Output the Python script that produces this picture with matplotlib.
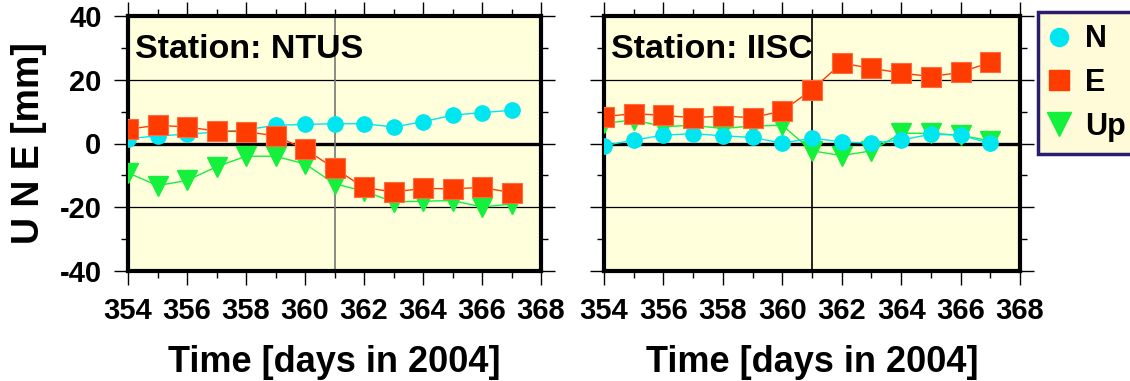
import matplotlib
matplotlib.use("Agg")
import matplotlib.pyplot as plt
from matplotlib.lines import Line2D
from matplotlib.ticker import MultipleLocator

plt.rcParams['font.family'] = ['Liberation Sans', 'DejaVu Sans']
plt.rcParams['font.weight'] = 'bold'
plt.rcParams['axes.unicode_minus'] = False

# ----- DATA -----
days = [354, 355, 356, 357, 358, 359, 360, 361, 362, 363, 364, 365, 366, 367]

stations = ["NTUS", "IISC"]

# NTUS
ntus_n = [1.5, 2.4, 2.9, 3.6, 4.3, 5.7, 6.0, 6.2, 6.2, 5.2, 6.8, 8.9, 9.7, 10.4]
ntus_e = [4.5, 5.7, 5.2, 3.9, 3.7, 2.4, -1.8, -7.8, -13.8, -15.2, -14.1, -14.2, -13.8, -15.4]
ntus_up = [-9.2, -13.2, -11.6, -7.3, -4.0, -4.0, -6.4, -12.6, -15.0, -18.3, -18.1, -17.9, -19.9, -19.0]

# IISC
iisc_n = [-0.7, 1.1, 2.6, 3.1, 2.4, 1.9, 0.1, 1.7, 0.5, 0.1, 1.1, 2.9, 2.6, 0.1]
iisc_e = [8.4, 9.4, 8.8, 8.1, 8.6, 8.1, 10.2, 16.9, 25.2, 23.6, 22.1, 21.0, 22.3, 25.5]
iisc_up = [6.3, 7.4, 5.3, 5.7, 4.7, 5.5, 5.7, -2.3, -3.8, -2.3, 3.2, 3.2, 2.6, 0.8]

series = {
    "NTUS": (ntus_n, ntus_e, ntus_up),
    "IISC": (iisc_n, iisc_e, iisc_up),
}

c_n = '#00E6F0'
c_e = '#FF3C00'
c_up = '#14F03C'
bg = '#FFFFDC'

fig = plt.figure(figsize=(11.3, 3.81), dpi=100)
ax_left = fig.add_axes([128 / 1130, 1 - 271 / 381, 413 / 1130, 255 / 381])
ax_right = fig.add_axes([604 / 1130, 1 - 271 / 381, 416 / 1130, 255 / 381])

for ax, name in zip([ax_left, ax_right], stations):
    n, e, up = series[name]
    ax.set_facecolor(bg)
    ax.set_xlim(354, 368)
    ax.set_ylim(-40, 40)
    ax.xaxis.set_major_locator(MultipleLocator(2))
    ax.xaxis.set_minor_locator(MultipleLocator(1))
    ax.yaxis.set_major_locator(MultipleLocator(20))
    ax.yaxis.set_minor_locator(MultipleLocator(10))
    ax.tick_params(which='both', direction='out', top=True, right=True,
                   width=1.0, color='black')
    ax.tick_params(which='major', length=10, pad=9, labelsize=21)
    ax.tick_params(which='minor', length=5)
    for sp in ax.spines.values():
        sp.set_linewidth(3)

    # grid lines
    for yv in [-20, 20]:
        ax.axhline(yv, color='black', lw=0.9, zorder=1)
    ax.axhline(0, color='black', lw=2.4, zorder=1)
    vcol = '#777777' if name == "NTUS" else 'black'
    ax.axvline(361, color=vcol, lw=1.2, zorder=1)

    ax.plot(days, up, color=c_up, lw=1, marker='v', ms=15, mec=c_up, zorder=3)
    ax.plot(days, n, color=c_n, lw=1, marker='o', ms=11, mec=c_n, zorder=4)
    ax.plot(days, e, color=c_e, lw=1, marker='s', ms=15, mec='#FF6A40', mew=0.8, zorder=5)

    ax.text(0.017, 0.93, "Station: " + name, transform=ax.transAxes,
            fontsize=24.5, fontweight='bold', va='top', ha='left', zorder=6)
    ax.set_xlabel("Time [days in 2004]", fontsize=26, fontweight='bold', labelpad=14)

ax_left.set_ylabel("U N E [mm]", fontsize=27, fontweight='bold', labelpad=9)
ax_right.set_yticklabels([])

# legend, runs off the right edge like the original
handles = [
    Line2D([], [], ls='none', marker='o', ms=13, color=c_n),
    Line2D([], [], ls='none', marker='s', ms=14, color=c_e),
    Line2D([], [], ls='none', marker='v', ms=17, color=c_up),
]
leg = fig.legend(handles, ["N", "E", "Up"], loc='upper left',
                 bbox_to_anchor=(1038 / 1130, 1 - 12 / 381, 0.2, 0),
                 mode='expand', borderaxespad=0, prop={'weight': 'bold', 'size': 22},
                 handlelength=0.6, handletextpad=0.55, labelspacing=0.45,
                 borderpad=0.4, fancybox=False, framealpha=1)
leg.get_frame().set_facecolor('#FFFBD8')
leg.get_frame().set_edgecolor('#2B1C6E')
leg.get_frame().set_linewidth(2.5)

fig.savefig("out.png", dpi=100)
